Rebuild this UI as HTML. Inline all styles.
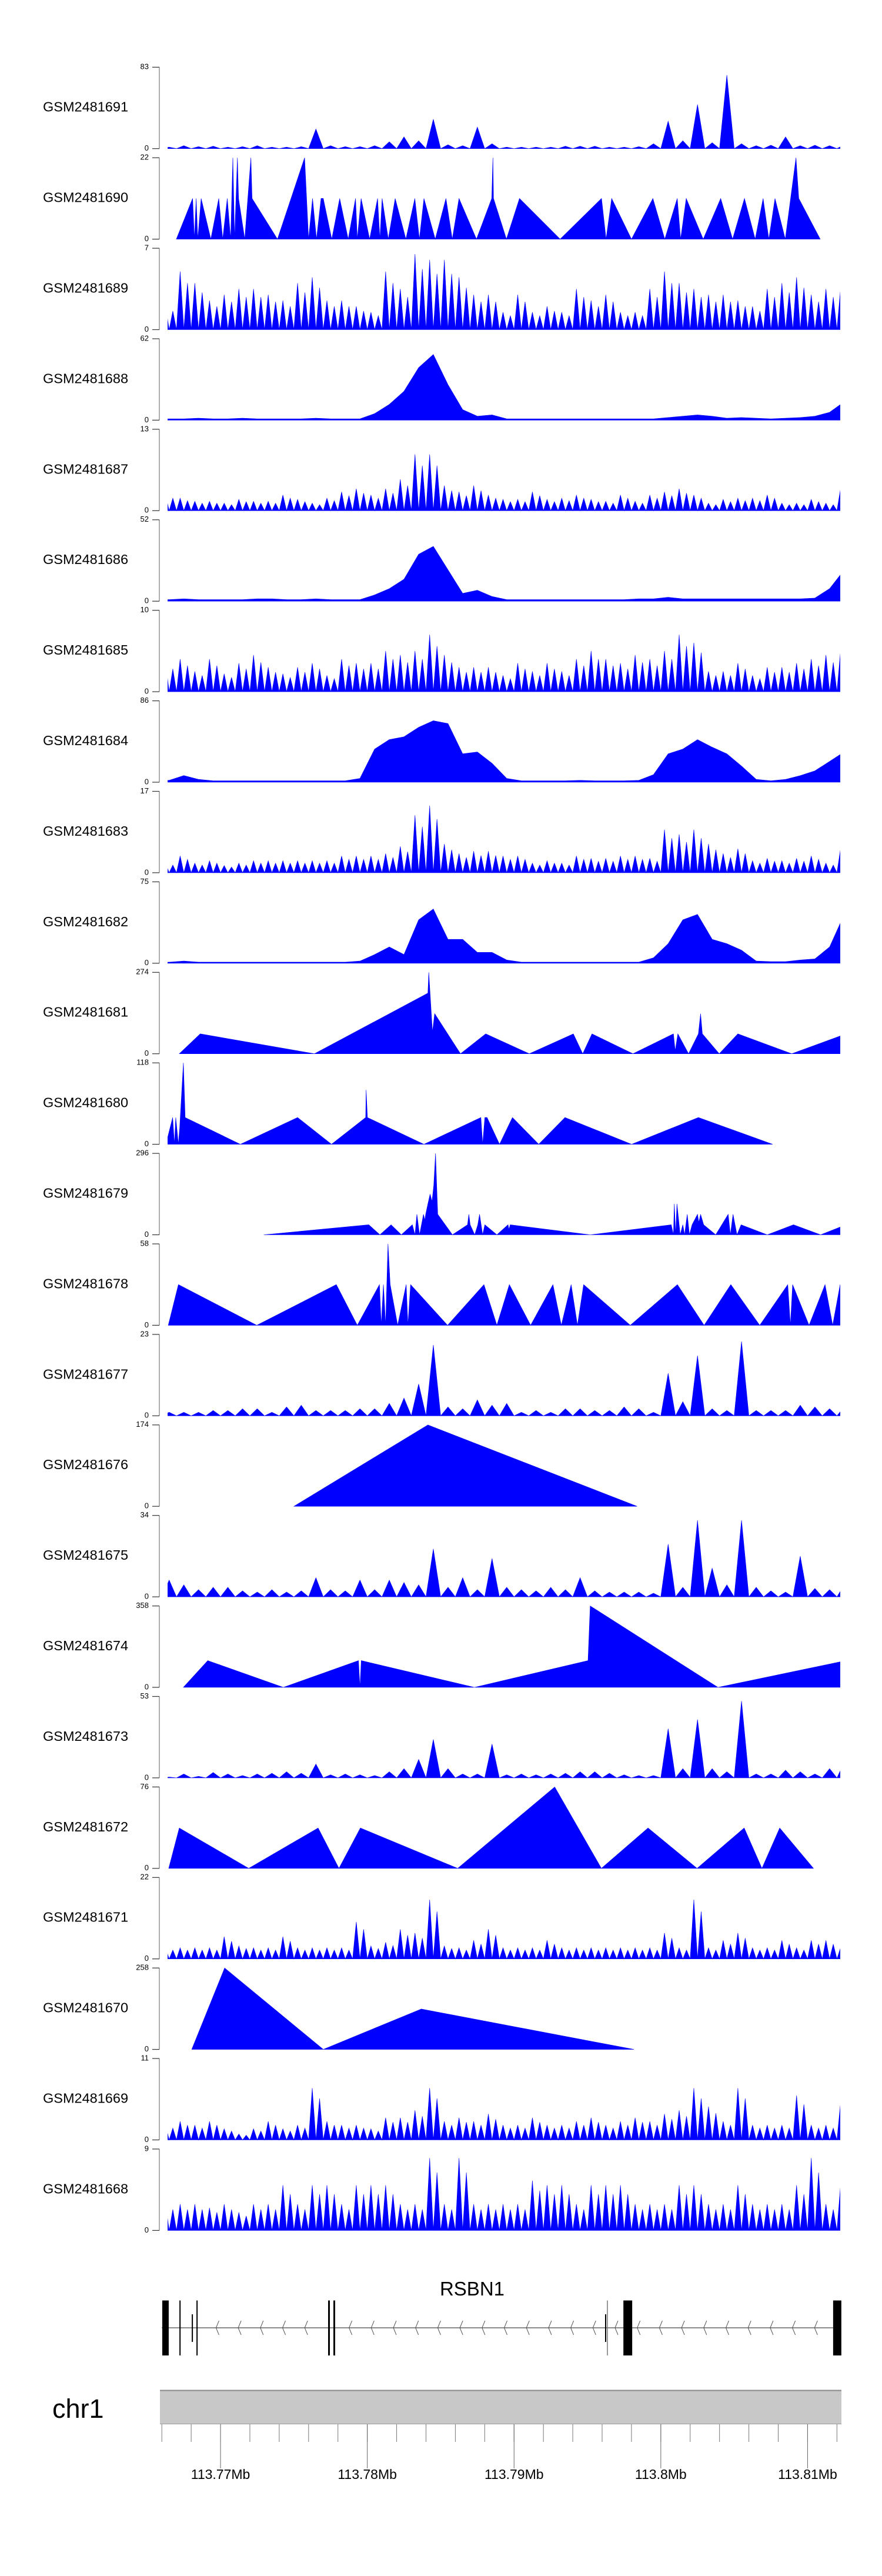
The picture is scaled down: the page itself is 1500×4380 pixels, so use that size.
<!DOCTYPE html>
<html><head><meta charset="utf-8"><style>
html,body{margin:0;padding:0;background:#fff}
svg{display:block}
text{font-family:"Liberation Sans",Arial,sans-serif}
</style></head><body>
<svg id="fig" xmlns="http://www.w3.org/2000/svg" width="1500" height="4380" viewBox="0 0 1500 4380">
<rect x="0" y="0" width="1500" height="4380" fill="#fff"/>
<defs><clipPath id="dataClip"><rect x="285" y="0" width="1144" height="4380"/></clipPath></defs>
<g id="tracks"></g>
<g id="gene"></g>
<g id="axis"></g>
</svg>
<script>
// ---- data (positions in kb from 113.766 Mb) ----
const trackNames = ["GSM2481691","GSM2481690","GSM2481689","GSM2481688","GSM2481687","GSM2481686","GSM2481685","GSM2481684","GSM2481683","GSM2481682","GSM2481681","GSM2481680","GSM2481679","GSM2481678","GSM2481677","GSM2481676","GSM2481675","GSM2481674","GSM2481673","GSM2481672","GSM2481671","GSM2481670","GSM2481669","GSM2481668"];
const trackMax = [83,22,7,62,13,52,10,86,17,75,274,118,296,58,23,174,34,358,53,76,22,258,11,9];

const v1691 = [1.5,3,2,2.5,1.5,2,3,1.5,1.5,2,20,3,2,2,3,7,12,8,30,4,3,22,5,1.5,1.5,1.5,1.5,2.5,2.5,2.5,1.5,1.5,2,5,28,8,45,6,75,5,3,3.5,12,3,3.5,3,4];
const v1689 = [2,5,4,2.5,3,3.5,3.5,3,2.5,4,4.5,2.5,2.5,2,1.5,5,3.5,6.5,6,6,4.5,3,3,1.5,3,1.5,2,1.5,3.5,2.5,3,1.5,1.5,3.5,5,4,3.5,3,3,2.5,2,3.5,4,4.5,3,3.5,3.5];
const v1688 = [1,1,1.5,1,1,1.5,1,1,1,1,1.5,1,1,1,5,12,22,40,50,27,8,3,4,1,1,1,1,1,1,1,1,1,1,1,2,3,4,3,1.5,2,1.5,1,1.5,2,3,6,14];
const v1687 = [2.5,2,1.5,1.5,1.2,1.8,1.5,1.5,2.5,1.8,1.2,2,3,3.5,2.5,3.5,5,9,9,4,3,4,2.5,1.8,1.8,3,1.8,2,2.5,1.8,1.5,2.5,1.5,2.5,3,3.5,2.5,1.2,1.8,2,2,2.5,1.2,1.2,1.8,1.2,3.5];
const v1686 = [1,1.5,1,1,1,1,1.5,1.5,1,1,1.5,1,1,1,4,8,14,30,35,20,5,7,3,1,1,1,1,1,1,1,1,1,1.5,1.5,2.5,1.5,1.5,1.5,1.5,1.5,1.5,1.5,1.5,1.5,2,8,20];
const v1685 = [3.5,4,2.5,4,2.2,3.5,4.5,3,2.2,3,3.5,2,4,3.5,3.5,5,4.5,5,7,4.5,3,3,3,2,3.5,2.5,3.5,2.5,4,5,4,3.5,4.5,4,5,7,6,2.5,2.5,3.5,2,3,3,3.5,4,4.5,5];
const v1684 = [2,7,3,1.5,1.5,1.5,1.5,1.5,1.5,1.5,1.5,1.5,1.5,4,35,45,48,58,65,62,30,32,20,4,1.5,1.5,1.5,1.5,2,1.5,1.5,1.5,2,8,30,35,45,37,30,17,3,1.5,3,7,12,22,32];
const v1683 = [2,3.5,2,2.5,1.5,2,2.5,2.5,2.5,2.5,2.5,2.5,3.5,3.5,3.5,4,5.5,12,14,6,4,4.5,4.5,3.5,3.5,2,2.5,2,3.5,3,3,3.5,3.5,3,9,8,9,6,4,5,2.5,3,2.5,3,3.5,2,5];
const v1682 = [1,2,1,1,1,1,1,1,1,1,1,1,1,2,8,15,8,40,50,22,22,10,10,3,1,1,1,1,1,1,1,1,1,5,18,40,45,22,18,12,2,1.5,1.5,3,4,15,45];
const v1677 = [1,1,1,1.5,1.5,2,2,1,2.5,3,1.5,1.5,1.5,2,2,3.5,5,9,20,2.5,2,4.5,3,3.5,1,1.5,1,2,2,1.5,1.5,2.5,2,1,12,4,17,2,1.5,21,1.5,1.5,1.5,3,2.5,2,2.5];
const v1675 = [7,5,3,4,4,2.5,2,3,2,2.5,8,3,2.5,7,3,7,6,5,20,4,8,3,16,4,3,2.5,4,3,8,2.5,2,2,2,1.5,22,4,32,12,5,32,4,2.5,2,17,3.5,3,5];
const v1673 = [0.5,2.5,1,3.5,2.5,1.5,2.5,3,4,3,9,2,2.5,2,1.5,4,6,12,25,6,2.5,2.5,22,2,2.5,2,2.5,3,4,4,3,2,1.5,1.5,32,6,38,6,4,50,2.5,2.5,5,4,2.5,6,10];
const v1671 = [3,3,3,3,6,3.5,3,3,6,3,3,3,3,10,3.5,4.5,8,7,16,3.5,3,5,8,3,3,3,5,3,3,3,3,3,3,3,7,3,16,3,5,7,3,3,5,3,5,5,3];
const v1669 = [2,2.5,2,2.5,1.5,0.8,1.5,2.5,1.5,2,7,2.5,2,2,1.5,3,3,4,7,2.5,3,2.5,3.5,2,2,3,2,2,2.5,3,2,2.5,3,2.5,3.5,4,7,4.5,2.5,7,2,2,2,6,2,2,5];
const v1668 = [2.9,2.9,2.9,2.5,2.9,2,2.9,2.9,5,2.9,5,5,2.9,5,5,5,2.9,2.9,8,2.9,8,2.9,2.9,2.9,2.9,5.5,5,5,2.9,5,5,5,2.9,2.9,2.9,5,5,2.9,2.9,5,2.9,2.9,2.9,5,8,2.9,5];

const pos1690 = [0.99,2.1,2.22,2.34,2.45,2.68,3.34,3.88,4.15,4.46,4.69,4.84,4.96,5.15,5.23,5.65,6.07,6.15,7.88,9.73,10.0,10.27,10.54,10.85,11.0,11.58,12.12,12.7,13.2,13.32,13.58,14.16,14.7,14.86,15.01,15.43,15.9,16.63,17.24,17.55,17.86,18.63,19.36,19.79,20.25,21.44,22.48,22.56,22.6,23.48,24.37,27.14,29.96,30.27,30.65,32.0,33.46,34.27,35.12,35.35,35.73,36.89,38.08,38.89,39.7,40.43,40.97,41.36,41.78,42.48,43.21,43.4,44.86];
const val1690 = [0,11,0,11,0,11,0,11,0,11,0,22,0,22,11,0,22,11,0,22,0,11,0,11,11,0,11,0,11,0,11,0,11,0,11,0,11,0,11,0,11,0,11,0,11,0,11,22,11,0,11,0,11,0,11,0,11,0,11,0,11,0,11,0,11,0,11,0,11,0,22,11,0];
const pos1681 = [1.19,2.62,10.4,18.13,18.19,18.44,18.59,20.35,22.07,25.04,28.04,28.68,29.31,32.1,34.86,34.98,35.16,35.89,36.56,36.71,36.83,37.98,39.25,42.92,46.62];
const val1681 = [0,67,0,204,274,73,135,0,67,0,67,0,67,0,67,10,67,0,67,135,67,0,67,0,67];
const pos1680 = [0.28,0.74,0.86,0.95,1.13,1.22,1.47,1.59,5.35,9.25,11.56,13.89,13.92,14.01,17.86,21.74,21.86,22.01,22.16,23.01,23.89,25.68,27.47,32.01,36.56,41.62];
const val1680 = [0,38.8,0,38.8,0,24.6,118,38.8,0,38.8,0,38.8,78.6,38.8,0,38.8,0,38.8,38.8,0,38.8,0,38.8,0,38.8,0];
const pos1679 = [6.95,14.1,14.86,15.62,16.32,17.07,17.25,17.38,17.56,17.83,17.92,17.98,18.13,18.28,18.41,18.53,18.65,18.8,19.8,20.83,20.92,21.01,21.32,21.53,21.65,21.86,22.01,22.83,23.59,23.65,23.74,29.19,34.71,34.86,34.92,35.01,35.1,35.32,35.5,35.62,35.8,35.95,36.13,36.5,36.59,36.71,36.92,37.74,38.59,38.74,38.92,39.19,39.47,41.25,43.04,44.89,46.62];
const val1679 = [0,36.4,0,36.4,0,36.4,0,74.4,0,74.4,53,74.4,112.5,148,121,180,296,74.4,0,36.4,74.4,36.4,0,36.4,74.4,0,36.4,0,36.4,19.5,36.4,0,36.4,0,112.5,0,112.5,0,36.4,0,74.4,0,36.4,74.4,44.8,74.4,36.4,0,74.4,0,74.4,0,36.4,0,36.4,0,36.4];
const pos1678 = [0.44,1.13,6.47,11.89,13.32,14.83,14.95,15.1,15.25,15.41,15.56,16.07,16.65,16.77,16.95,19.47,21.95,22.83,23.68,25.13,26.65,27.22,27.89,28.32,28.74,31.92,35.13,36.95,38.77,40.74,42.65,42.83,42.98,44.1,45.19,45.71,46.22,46.47];
const val1678 = [0,29,0,29,0,29,0,29,0,58,29,0,29,0,29,0,29,0,29,0,29,0,29,0,29,0,29,0,29,0,29,0,29,0,29,0,29,0];
const pos1676 = [9.0,18.13,32.38];
const val1676 = [0,174,0];
const pos1674 = [1.47,3.13,8.28,13.4,13.5,13.59,21.3,29.04,29.19,37.89,46.62];
const val1674 = [0,117.6,0,117.6,0,117.6,0,117.6,358,0,117.6];
const pos1672 = [0.47,1.19,5.92,10.65,12.07,13.53,20.16,26.77,29.95,33.13,36.47,39.68,40.89,42.1,44.4];
const val1672 = [0,37.7,0,37.7,0,37.7,0,76,0,37.7,0,37.7,0,37.7,0];
const pos1670 = [2.04,4.28,11.0,17.68,32.16];
const val1670 = [0,258,0,128,0];

const exonStart = [0.03,1.2,2.04,2.36,11.33,11.69,30.2,30.33,31.45,45.74];
const exonEnd   = [0.47,1.28,2.12,2.44,11.45,11.81,30.28,30.37,32.05,46.3];
const exonTall  = [1,1,0,1,1,1,0,1,1,1];
const majorTicks = [4,14,24,34,44];
const majorLabels = ["113.77Mb","113.78Mb","113.79Mb","113.8Mb","113.81Mb"];

// ---- layout ----
const NS = "http://www.w3.org/2000/svg";
const X = kb => 275.2 + kb * 24.96;
const TOP0 = 114.3, PITCH = 153.9, H = 138.4;
function mk(tag, attrs, parent){ const e=document.createElementNS(NS,tag); for(const k in attrs) e.setAttribute(k,attrs[k]); parent.appendChild(e); return e; }

const trackSpec = [
 ["spike",v1691,1],["vert",pos1690,val1690],["spike",v1689,2],["smooth",v1688],["spike",v1687,2],["smooth",v1686],
 ["spike",v1685,2],["smooth",v1684],["spike",v1683,2],["smooth",v1682],["vert",pos1681,val1681],["vert",pos1680,val1680],
 ["vert",pos1679,val1679],["vert",pos1678,val1678],["spike",v1677,1],["vert",pos1676,val1676],["spike",v1675,1],["vert",pos1674,val1674],
 ["spike",v1673,1],["vert",pos1672,val1672],["spike",v1671,2],["vert",pos1670,val1670],["spike",v1669,2],["spike",v1668,2]
];

const tracksG = document.getElementById("tracks");
trackNames.forEach((name, i) => {
  const top = TOP0 + i * PITCH, base = top + H, mx = trackMax[i];
  const Y = v => base - Math.min(v, mx) / mx * H;
  const g = mk("g", {}, tracksG);
  
  
  const lab = mk("text", {x:73, y:top + H/2, "font-size":"23.5", "dominant-baseline":"middle", fill:"#000"}, g);
  lab.textContent = name;
  
  
  const ax = mk("line", {x1:271, y1:top, x2:271, y2:base, stroke:"#999", "stroke-width":"1.6"}, g);
  
  
  [[mx, top],[0, base]].forEach(([t, yy]) => {
    mk("line", {x1:259, y1:yy, x2:271, y2:yy, stroke:"#333", "stroke-width":"1.2"}, g);
    const tl = mk("text", {x:253, y:yy, "font-size":"13", "text-anchor":"end", "dominant-baseline":"middle", fill:"#000"}, g);
    tl.textContent = t;
    
    
  });
  const spec = trackSpec[i];
  let d = "";
  if (spec[0] === "vert") {
    const p = spec[1], v = spec[2];
    d = "M" + X(p[0]) + "," + base;
    p.forEach((k, j) => { d += " L" + X(k) + "," + Y(v[j]); });
    d += " L" + X(p[p.length-1]) + "," + base + " Z";
  } else if (spec[0] === "smooth") {
    const v = spec[1];
    d = "M" + X(0) + "," + base + " L" + X(0) + "," + Y(v[0]);
    v.forEach((val, j) => { d += " L" + X(j + 0.5) + "," + Y(val); });
    d += " L" + X(v.length) + "," + Y(v[v.length-1]) + " L" + X(v.length) + "," + base + " Z";
  } else {
    const v = spec[1], n = spec[2];
    d = "M" + X(0) + "," + base;
    v.forEach((val, j) => {
      for (let s = 0; s < n; s++) {
        const a = j + s / n, w = 1 / n;
        const hv = (n === 2 && s === 1) ? val * 0.8 : val;
        d += " L" + X(a + w/2) + "," + Y(hv) + " L" + X(a + w) + "," + base;
      }
    });
    d += " Z";
  }
  const area = mk("path", {d:d, fill:"#0000ff", stroke:"#0000ff", "stroke-width":"0.6", "clip-path":"url(#dataClip)"}, g);
  
  
});

// ---- gene model ----
const geneG = document.getElementById("gene");
const gname = mk("text", {x:803, y:3903, "font-size":"33", "text-anchor":"middle", fill:"#000"}, geneG);
gname.textContent = "RSBN1";


const lineY = 3958;
const intron = mk("line", {x1:X(0), y1:lineY, x2:X(45.74), y2:lineY, stroke:"#444", "stroke-width":"1.2"}, geneG);


for (let cx = 292; cx < 1412; cx += 37.7) {
  let inside = false;
  exonStart.forEach((s, j) => { if (cx > X(s) - 6 && cx < X(exonEnd[j]) + 6) inside = true; });
  if (inside) continue;
  mk("path", {d:"M"+(cx+5)+","+(lineY-12)+" L"+cx+","+lineY+" L"+(cx+5)+","+(lineY+12), fill:"none", stroke:"#555", "stroke-width":"1"}, geneG);
}
exonStart.forEach((s, j) => {
  const tall = exonTall[j];
  const y1 = tall ? 3911.5 : 3935, y2 = tall ? 4005 : 3982;
  const w = Math.max(1.5, X(exonEnd[j]) - X(s));
  const r = mk("rect", {x:X(s), y:y1, width:w, height:y2 - y1, fill: (j === 7 ? "#777" : "#000")}, geneG);
  
  
});

// ---- chromosome axis ----
const axG = document.getElementById("axis");
const chr = mk("text", {x:89, y:4111, "font-size":"45", fill:"#000"}, axG);
chr.textContent = "chr1";


const band = mk("rect", {x:272, y:4064, width:1159, height:58, fill:"#c8c8c8"}, axG);


mk("line", {x1:272, y1:4064.5, x2:1431, y2:4064.5, stroke:"#888", "stroke-width":"2"}, axG);
mk("line", {x1:272, y1:4121.5, x2:1431, y2:4121.5, stroke:"#999", "stroke-width":"1"}, axG);
for (let k = 0; k <= 46; k += 2) {
  mk("line", {x1:X(k), y1:4122, x2:X(k), y2:4152, stroke:"#777", "stroke-width":"1"}, axG);
}
majorTicks.forEach((k, j) => {
  mk("line", {x1:X(k), y1:4122, x2:X(k), y2:4197, stroke:"#666", "stroke-width":"1"}, axG);
  const t = mk("text", {x:X(k), y:4215, "font-size":"23", "text-anchor":"middle", fill:"#000"}, axG);
  t.textContent = majorLabels[j];
  
  
});
</script>
</body></html>
